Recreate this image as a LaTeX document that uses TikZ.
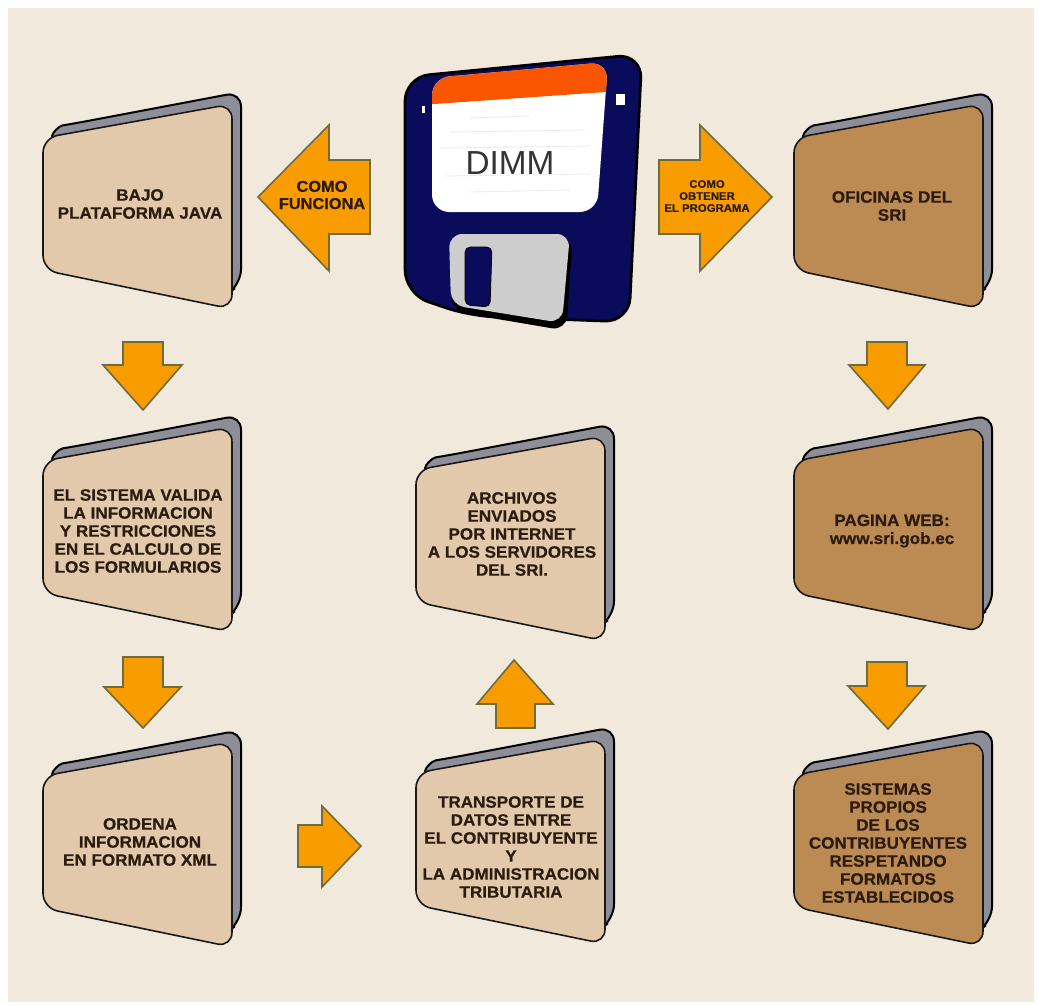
\documentclass[tikz,border=0pt]{standalone}
\usepackage{fontspec}
\setmainfont{Liberation Sans}[BoldFeatures={FakeStretch=1.04,FakeBold=0.6}]
\definecolor{bgc}{HTML}{F2E9DD}
\definecolor{pagelight}{HTML}{E3C9AC}
\definecolor{pagedark}{HTML}{BC8B53}
\definecolor{backpage}{HTML}{8E8E98}
\definecolor{arrowfill}{HTML}{F89C00}
\definecolor{arrowline}{HTML}{6E6B3C}
\definecolor{inktext}{HTML}{2B1C0F}
\definecolor{navy}{HTML}{0B0B5C}
\definecolor{labelorange}{HTML}{FA5500}
\definecolor{shutter}{HTML}{CDCDCD}
\tikzset{
  backsheet/.style={draw=black,line width=1.5pt,fill=backpage,rounded corners=11pt},
  frontsheet/.style={draw=black!90,line width=1.2pt,rounded corners=11pt},
  booktext/.style={inner sep=0pt,align=center,text=inktext,font=\bfseries\fontsize{12.3}{13.5}\selectfont},
  arrowtext/.style={inner sep=0pt,align=center,text=inktext,font=\bfseries\fontsize{11.8}{12.9}\selectfont},
  smalltext/.style={inner sep=0pt,align=center,text=inktext,font=\bfseries\fontsize{8.2}{9}\selectfont},
  blockarrow/.style={draw=arrowline,line width=1.2pt,fill=arrowfill,line join=miter},
}
% name, x, y, fill, text x, text y, text
\newcommand{\bookat}[7]{%
  \begin{scope}[shift={(#2,#3)}]
    \draw[backsheet] (9,70) -- (9,56) .. controls (9,38) and (16,31) .. (34,28) -- (198,-3) -- (198,189) -- (180,202) -- cycle;
    \draw[frontsheet,fill=#4] (0,43) -- (189,9) -- (189,214) -- (0,175) -- cycle;
  \end{scope}
  \node[booktext] (#1) at (#5,#6) {#7};
}
\begin{document}
\begin{tikzpicture}[x=0.75pt,y=-0.75pt]
\useasboundingbox (0,0) rectangle (1039,1004);
\fill[white] (0,0) rectangle (1039,1004);
\fill[bgc] (8,8) rectangle (1034,1002);

% books
\bookat{bajo}{43}{95}{pagelight}{140}{204}{BAJO\\PLATAFORMA JAVA}
\bookat{sistema}{43}{418}{pagelight}{138}{531}{EL SISTEMA VALIDA\\LA INFORMACION\\Y RESTRICCIONES\\EN EL CALCULO DE\\LOS FORMULARIOS}
\bookat{ordena}{43}{733}{pagelight}{140}{842}{ORDENA\\INFORMACION\\EN FORMATO XML}
\bookat{archivos}{416}{427}{pagelight}{512}{534}{ARCHIVOS\\ENVIADOS\\POR INTERNET\\A LOS SERVIDORES\\DEL SRI.}
\bookat{transporte}{416}{730}{pagelight}{511}{847}{TRANSPORTE DE\\DATOS ENTRE\\EL CONTRIBUYENTE\\Y\\LA ADMINISTRACION\\TRIBUTARIA}
\bookat{oficinas}{794}{95}{pagedark}{892}{206}{OFICINAS DEL\\SRI}
\bookat{pagina}{794}{418}{pagedark}{892}{531}{PAGINA WEB:\\www.sri.gob.ec}
\bookat{sistemas}{794}{732}{pagedark}{888}{843}{SISTEMAS\\PROPIOS\\DE LOS\\CONTRIBUYENTES\\RESPETANDO\\FORMATOS\\ESTABLECIDOS}

% block arrows
\draw[blockarrow] (258,197) -- (329,125) -- (329,160) -- (370,160) -- (370,234) -- (329,234) -- (329,271) -- cycle;
\draw[blockarrow] (772,197) -- (700,125) -- (700,160) -- (659,160) -- (659,234) -- (700,234) -- (700,271) -- cycle;
\draw[blockarrow] (143,410) -- (103,365) -- (123,365) -- (123,342) -- (163,342) -- (163,365) -- (182,365) -- cycle;
\draw[blockarrow] (143,728) -- (104,687) -- (123,687) -- (123,657) -- (163,657) -- (163,687) -- (181,687) -- cycle;
\draw[blockarrow] (888,409) -- (849,365) -- (867,365) -- (867,342) -- (907,342) -- (907,365) -- (925,365) -- cycle;
\draw[blockarrow] (888,729) -- (848,686) -- (867,686) -- (867,662) -- (907,662) -- (907,686) -- (925,686) -- cycle;
\draw[blockarrow] (514,660) -- (477,704) -- (496,704) -- (496,728) -- (535,728) -- (535,704) -- (553,704) -- cycle;
\draw[blockarrow] (361,846) -- (322,806) -- (322,825) -- (298,825) -- (298,867) -- (322,867) -- (322,887) -- cycle;
\node[arrowtext] (como) at (322,195) {COMO\\FUNCIONA};
\node[smalltext] (obtener) at (707,196) {COMO\\OBTENER\\EL PROGRAMA};

% floppy disk
\draw[draw=black,line width=2pt,fill=navy,rounded corners=18pt]
  (405,77) -- (642,54) -- (629,322) -- (470,316) -- (405,294) -- cycle;
\begin{scope}
  \clip[rounded corners=13pt] (432,78) -- (608,62) -- (597,212) -- (432,212) -- cycle;
  \fill[white] (420,50) rectangle (620,220);
  \fill[labelorange] (420,105) -- (620,91) -- (620,50) -- (420,50) -- cycle;
  \foreach \yy/\xa/\xb in {118/470/530,132/450/585,148/440/590,176/445/590,192/470/570}
    \draw[black!8,line width=0.6pt] (\xa,\yy) -- (\xb,\yy-2);
\end{scope}
\fill[white] (421.5,106) rectangle (425,113);
\fill[white] (616,94) rectangle (625,105);
\node[inner sep=0pt,text=black!80,font=\fontsize{25}{25}\selectfont] (dimm) at (510,163) {DIMM};
\draw[draw=black,line width=2.2pt,fill=black,rounded corners=10pt]
  (451,238) -- (571,238) -- (565,329) -- (453,310) -- cycle;
\fill[shutter,rounded corners=10pt] (449,234) -- (570,234) -- (562,323) -- (451,305) -- cycle;
\draw[draw=black,line width=0.6pt,fill=navy,rounded corners=4pt]
  (465,247) -- (492,247) -- (490,307) -- (465,305) -- cycle;
\end{tikzpicture}
\end{document}
